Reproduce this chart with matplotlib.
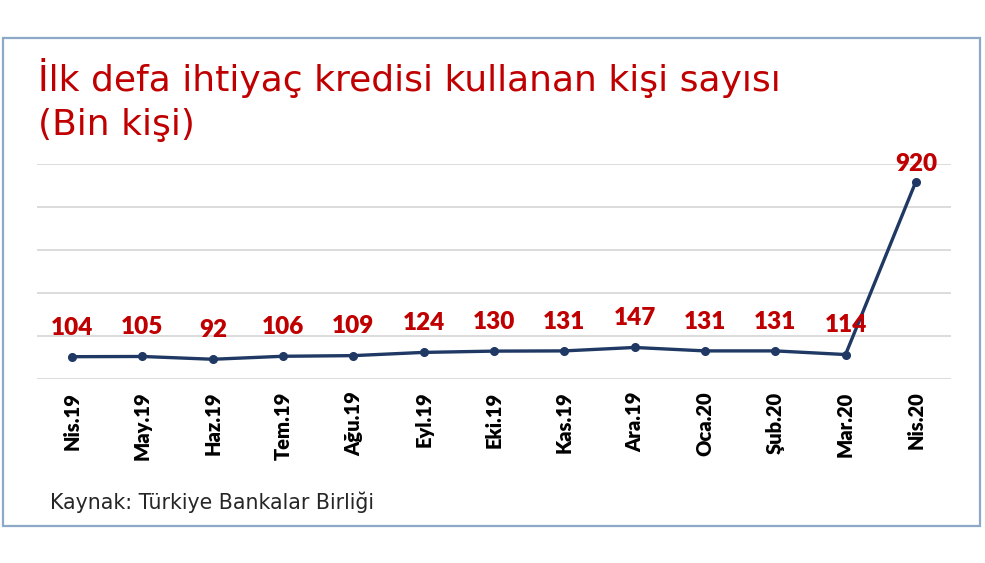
import matplotlib
matplotlib.use("Agg")
import matplotlib.pyplot as plt
from matplotlib.patches import Rectangle

# data (bin kişi)
months = ["Nis.19", "May.19", "Haz.19", "Tem.19", "Ağu.19", "Eyl.19", "Eki.19",
          "Kas.19", "Ara.19", "Oca.20", "Şub.20", "Mar.20", "Nis.20"]
people = [104, 105, 92, 106, 109, 124, 130, 131, 147, 131, 131, 114, 920]

title_1 = "İlk defa ihtiyaç kredisi kullanan kişi sayısı"
title_2 = "(Bin kişi)"
source = "Kaynak: Türkiye Bankalar Birliği"

RED = "#C00000"
NAVY = "#1F3864"
W, H = 985, 563

fig = plt.figure(figsize=(W / 100, H / 100), dpi=100)
fig.patch.set_facecolor("white")

# outer frame
fig.patches.append(Rectangle((3 / W, 1 - 526 / H), 977 / W, 488 / H, transform=fig.transFigure,
                             fill=False, edgecolor="#8EA9C8", linewidth=1.6))

ax = fig.add_axes([37 / W, 1 - 379 / H, (951 - 37) / W, (379 - 164.5) / H])
x = list(range(len(months)))
ax.plot(x, people, color=NAVY, lw=2.4, marker="o", ms=5.5, zorder=3)
ax.set_xlim(-0.5, len(months) - 0.5)
ax.set_ylim(0, 1000)
ax.set_yticks(range(0, 1001, 200))
ax.yaxis.grid(True, color="#D9D9D9", lw=1.3)
ax.set_axisbelow(True)
ax.tick_params(axis="y", length=0, labelleft=False)
ax.tick_params(axis="x", length=0, pad=9)
for s in ax.spines.values():
    s.set_visible(False)
ax.set_xticks(x)
ax.set_xticklabels(months, rotation=90, fontfamily="Lato", fontweight="heavy", fontsize=14.5)

for i, v in enumerate(people):
    off = 13 if v > 500 else 21
    ax.annotate(str(v), (i, v), xytext=(0, off), textcoords="offset points", ha="center",
                va="center", color=RED, fontfamily="Lato", fontweight="heavy", fontsize=17.5)

fig.text(38 / W, 1 - 91 / H, title_1, color=RED, fontfamily="DejaVu Sans", fontsize=26,
         va="baseline")
fig.text(38 / W, 1 - 135 / H, title_2, color=RED, fontfamily="DejaVu Sans", fontsize=26,
         va="baseline")
fig.text(50 / W, 1 - 502 / H, source, color="#262626", fontfamily="DejaVu Sans", fontsize=14.8,
         va="center")

fig.savefig("out.png", dpi=100)
